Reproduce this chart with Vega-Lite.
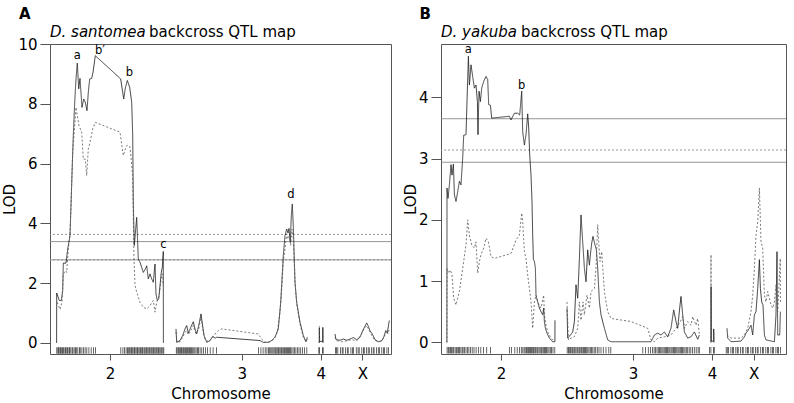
{
"$schema": "https://vega.github.io/schema/vega-lite/v6.json",
"padding": {"left": 2, "top": 6, "right": 2, "bottom": 0},
"background": "white",
"config": {
  "font": "DejaVu Sans",
  "view": {"stroke": "#555", "strokeWidth": 1},
  "axis": {"domain": false, "grid": false, "tickColor": "#555", "labelFontSize": 15, "titleFontSize": 15, "titleFontWeight": "normal", "labelColor": "#000", "titleColor": "#000", "labelFont": "DejaVu Sans", "titleFont": "DejaVu Sans"},
  "text": {"font": "DejaVu Sans"}
},
"datasets": {
  "lodA": [
    {"p":6.6,"l":0,"c":"2","t":"solid"},{"p":6.7,"l":1.67,"c":"2","t":"solid"},{"p":9.3,"l":1.42,"c":"2","t":"solid"},{"p":11.3,"l":1.42,"c":"2","t":"solid"},{"p":12.7,"l":1.75,"c":"2","t":"solid"},{"p":13.3,"l":2.67,"c":"2","t":"solid"},{"p":16,"l":2.67,"c":"2","t":"solid"},{"p":17.7,"l":3.14,"c":"2","t":"solid"},{"p":20,"l":3.59,"c":"2","t":"solid"},{"p":21,"l":4.6,"c":"2","t":"solid"},{"p":22.7,"l":6.37,"c":"2","t":"solid"},{"p":23.3,"l":6.94,"c":"2","t":"solid"},{"p":24.7,"l":8.05,"c":"2","t":"solid"},{"p":26,"l":8.83,"c":"2","t":"solid"},{"p":27.3,"l":9.36,"c":"2","t":"solid"},{"p":28.7,"l":8.5,"c":"2","t":"solid"},{"p":30,"l":8.85,"c":"2","t":"solid"},{"p":32,"l":7.88,"c":"2","t":"solid"},{"p":33.7,"l":8.16,"c":"2","t":"solid"},{"p":35.3,"l":8.05,"c":"2","t":"solid"},{"p":37,"l":7.77,"c":"2","t":"solid"},{"p":38.3,"l":8.38,"c":"2","t":"solid"},{"p":39.7,"l":8.83,"c":"2","t":"solid"},{"p":41.7,"l":8.85,"c":"2","t":"solid"},{"p":43,"l":9.05,"c":"2","t":"solid"},{"p":45.3,"l":9.61,"c":"2","t":"solid"},{"p":70.7,"l":8.83,"c":"2","t":"solid"},{"p":73.7,"l":8.16,"c":"2","t":"solid"},{"p":75.3,"l":8.52,"c":"2","t":"solid"},{"p":77.3,"l":8.78,"c":"2","t":"solid"},{"p":79.7,"l":8.55,"c":"2","t":"solid"},{"p":81.7,"l":8.05,"c":"2","t":"solid"},{"p":82.7,"l":6.94,"c":"2","t":"solid"},{"p":83.3,"l":4.7,"c":"2","t":"solid"},{"p":84.3,"l":3.26,"c":"2","t":"solid"},{"p":86.7,"l":4.2,"c":"2","t":"solid"},{"p":88.3,"l":2.81,"c":"2","t":"solid"},{"p":90,"l":2.7,"c":"2","t":"solid"},{"p":93.3,"l":2.36,"c":"2","t":"solid"},{"p":95.3,"l":2.47,"c":"2","t":"solid"},{"p":96.7,"l":2.58,"c":"2","t":"solid"},{"p":98.3,"l":2.14,"c":"2","t":"solid"},{"p":100,"l":2.31,"c":"2","t":"solid"},{"p":101.7,"l":2.14,"c":"2","t":"solid"},{"p":103.3,"l":2.03,"c":"2","t":"solid"},{"p":105,"l":2.64,"c":"2","t":"solid"},{"p":106,"l":1.64,"c":"2","t":"solid"},{"p":107.3,"l":1.42,"c":"2","t":"solid"},{"p":108.7,"l":1.47,"c":"2","t":"solid"},{"p":110,"l":1.92,"c":"2","t":"solid"},{"p":111.3,"l":2.36,"c":"2","t":"solid"},{"p":112.3,"l":2.53,"c":"2","t":"solid"},{"p":113.3,"l":3.06,"c":"2","t":"solid"},{"p":113.4,"l":0,"c":"2","t":"solid"},
    {"p":7.3,"l":1.36,"c":"2","t":"dotted"},{"p":10,"l":1.12,"c":"2","t":"dotted"},{"p":12,"l":1.36,"c":"2","t":"dotted"},{"p":13.3,"l":2.31,"c":"2","t":"dotted"},{"p":15.7,"l":2.42,"c":"2","t":"dotted"},{"p":16.7,"l":2.36,"c":"2","t":"dotted"},{"p":18.3,"l":3.14,"c":"2","t":"dotted"},{"p":20,"l":3.64,"c":"2","t":"dotted"},{"p":21,"l":4.6,"c":"2","t":"dotted"},{"p":22.7,"l":6.37,"c":"2","t":"dotted"},{"p":24,"l":6.94,"c":"2","t":"dotted"},{"p":26,"l":7.88,"c":"2","t":"dotted"},{"p":27.3,"l":7.6,"c":"2","t":"dotted"},{"p":29,"l":7.27,"c":"2","t":"dotted"},{"p":31.7,"l":7.05,"c":"2","t":"dotted"},{"p":33.3,"l":6.15,"c":"2","t":"dotted"},{"p":35.3,"l":6.15,"c":"2","t":"dotted"},{"p":36.7,"l":5.6,"c":"2","t":"dotted"},{"p":38.3,"l":6.49,"c":"2","t":"dotted"},{"p":40,"l":6.71,"c":"2","t":"dotted"},{"p":42.7,"l":7.16,"c":"2","t":"dotted"},{"p":45.3,"l":7.38,"c":"2","t":"dotted"},{"p":70,"l":7.05,"c":"2","t":"dotted"},{"p":73.3,"l":6.27,"c":"2","t":"dotted"},{"p":75.3,"l":6.49,"c":"2","t":"dotted"},{"p":77.3,"l":6.62,"c":"2","t":"dotted"},{"p":80,"l":6.55,"c":"2","t":"dotted"},{"p":82.7,"l":5.6,"c":"2","t":"dotted"},{"p":83.3,"l":4.26,"c":"2","t":"dotted"},{"p":84,"l":2.81,"c":"2","t":"dotted"},{"p":85,"l":1.92,"c":"2","t":"dotted"},{"p":86.7,"l":1.7,"c":"2","t":"dotted"},{"p":90,"l":1.36,"c":"2","t":"dotted"},{"p":93.3,"l":1.19,"c":"2","t":"dotted"},{"p":96.7,"l":1.14,"c":"2","t":"dotted"},{"p":100,"l":1.25,"c":"2","t":"dotted"},{"p":103.3,"l":1.42,"c":"2","t":"dotted"},{"p":105,"l":1.03,"c":"2","t":"dotted"},{"p":106.7,"l":1.36,"c":"2","t":"dotted"},{"p":109.3,"l":1.58,"c":"2","t":"dotted"},{"p":111,"l":2.14,"c":"2","t":"dotted"},{"p":112.7,"l":2.31,"c":"2","t":"dotted"},{"p":113,"l":1.92,"c":"2","t":"dotted"},
    {"p":126,"l":0.47,"c":"3","t":"solid"},{"p":126.7,"l":0.02,"c":"3","t":"solid"},{"p":130,"l":0.08,"c":"3","t":"solid"},{"p":132.7,"l":0.25,"c":"3","t":"solid"},{"p":135,"l":0.47,"c":"3","t":"solid"},{"p":136.7,"l":0.58,"c":"3","t":"solid"},{"p":138.3,"l":0.33,"c":"3","t":"solid"},{"p":140.7,"l":0.52,"c":"3","t":"solid"},{"p":143.3,"l":0.71,"c":"3","t":"solid"},{"p":145,"l":0.47,"c":"3","t":"solid"},{"p":146.7,"l":0.3,"c":"3","t":"solid"},{"p":148.7,"l":0.58,"c":"3","t":"solid"},{"p":151,"l":0.97,"c":"3","t":"solid"},{"p":152.7,"l":0.56,"c":"3","t":"solid"},{"p":154,"l":0.25,"c":"3","t":"solid"},{"p":156.7,"l":0.02,"c":"3","t":"solid"},{"p":160,"l":0.08,"c":"3","t":"solid"},{"p":162.7,"l":0.22,"c":"3","t":"solid"},{"p":165,"l":0.16,"c":"3","t":"solid"},{"p":166.7,"l":0.19,"c":"3","t":"solid"},{"p":210,"l":0.08,"c":"3","t":"solid"},{"p":213.3,"l":0.02,"c":"3","t":"solid"},{"p":218.3,"l":0.02,"c":"3","t":"solid"},{"p":221.7,"l":0.08,"c":"3","t":"solid"},{"p":225,"l":0.19,"c":"3","t":"solid"},{"p":228.3,"l":0.47,"c":"3","t":"solid"},{"p":230.7,"l":1.36,"c":"3","t":"solid"},{"p":233.3,"l":2.92,"c":"3","t":"solid"},{"p":235,"l":3.59,"c":"3","t":"solid"},{"p":236.7,"l":3.81,"c":"3","t":"solid"},{"p":238,"l":3.68,"c":"3","t":"solid"},{"p":239,"l":3.83,"c":"3","t":"solid"},{"p":240.3,"l":3.37,"c":"3","t":"solid"},{"p":241.3,"l":4.26,"c":"3","t":"solid"},{"p":242.3,"l":4.65,"c":"3","t":"solid"},{"p":243.3,"l":3.92,"c":"3","t":"solid"},{"p":245,"l":2.03,"c":"3","t":"solid"},{"p":246.7,"l":1.36,"c":"3","t":"solid"},{"p":250,"l":0.69,"c":"3","t":"solid"},{"p":253.3,"l":0.25,"c":"3","t":"solid"},{"p":256,"l":0.04,"c":"3","t":"solid"},{"p":257.3,"l":0.19,"c":"3","t":"solid"},
    {"p":126,"l":0.36,"c":"3","t":"dotted"},{"p":127,"l":0.02,"c":"3","t":"dotted"},{"p":130,"l":0.04,"c":"3","t":"dotted"},{"p":132.7,"l":0.19,"c":"3","t":"dotted"},{"p":135,"l":0.36,"c":"3","t":"dotted"},{"p":136.7,"l":0.41,"c":"3","t":"dotted"},{"p":138.3,"l":0.27,"c":"3","t":"dotted"},{"p":140.7,"l":0.41,"c":"3","t":"dotted"},{"p":143.3,"l":0.58,"c":"3","t":"dotted"},{"p":146,"l":0.3,"c":"3","t":"dotted"},{"p":148.7,"l":0.47,"c":"3","t":"dotted"},{"p":151,"l":0.86,"c":"3","t":"dotted"},{"p":152.7,"l":0.47,"c":"3","t":"dotted"},{"p":155,"l":0.13,"c":"3","t":"dotted"},{"p":158.3,"l":0.04,"c":"3","t":"dotted"},{"p":161.7,"l":0.13,"c":"3","t":"dotted"},{"p":165,"l":0.3,"c":"3","t":"dotted"},{"p":168.3,"l":0.41,"c":"3","t":"dotted"},{"p":171.7,"l":0.47,"c":"3","t":"dotted"},{"p":208.3,"l":0.3,"c":"3","t":"dotted"},{"p":211.7,"l":0.13,"c":"3","t":"dotted"},{"p":215,"l":0.02,"c":"3","t":"dotted"},{"p":220,"l":0.04,"c":"3","t":"dotted"},{"p":224,"l":0.13,"c":"3","t":"dotted"},{"p":227.3,"l":0.36,"c":"3","t":"dotted"},{"p":230,"l":1.03,"c":"3","t":"dotted"},{"p":232,"l":1.92,"c":"3","t":"dotted"},{"p":233.3,"l":2.75,"c":"3","t":"dotted"},{"p":235,"l":3.14,"c":"3","t":"dotted"},{"p":236.7,"l":3.65,"c":"3","t":"dotted"},{"p":238,"l":3.48,"c":"3","t":"dotted"},{"p":239.3,"l":3.59,"c":"3","t":"dotted"},{"p":240.7,"l":3.26,"c":"3","t":"dotted"},{"p":242,"l":3.81,"c":"3","t":"dotted"},{"p":243.3,"l":3.48,"c":"3","t":"dotted"},{"p":245,"l":2.03,"c":"3","t":"dotted"},{"p":246.7,"l":1.3,"c":"3","t":"dotted"},{"p":250,"l":0.64,"c":"3","t":"dotted"},{"p":253.3,"l":0.19,"c":"3","t":"dotted"},{"p":256,"l":0.04,"c":"3","t":"dotted"},{"p":257.3,"l":0.13,"c":"3","t":"dotted"},
    {"p":269.3,"l":0,"c":"4","t":"solid"},{"p":269.4,"l":0.5,"c":"4","t":"solid"},{"p":269.6,"l":0.05,"c":"4","t":"solid"},{"p":272.6,"l":0.05,"c":"4","t":"solid"},{"p":272.8,"l":0.52,"c":"4","t":"solid"},{"p":273,"l":0,"c":"4","t":"solid"},
    {"p":269.2,"l":0,"c":"4","t":"dotted"},{"p":269.3,"l":0.55,"c":"4","t":"dotted"},{"p":269.5,"l":0.05,"c":"4","t":"dotted"},{"p":272.5,"l":0.05,"c":"4","t":"dotted"},{"p":272.7,"l":0.5,"c":"4","t":"dotted"},{"p":272.9,"l":0,"c":"4","t":"dotted"},
    {"p":285,"l":0.3,"c":"X","t":"solid"},{"p":286,"l":0.11,"c":"X","t":"solid"},{"p":290,"l":0.09,"c":"X","t":"solid"},{"p":293.3,"l":0.13,"c":"X","t":"solid"},{"p":296.7,"l":0.09,"c":"X","t":"solid"},{"p":300,"l":0.13,"c":"X","t":"solid"},{"p":303.3,"l":0.18,"c":"X","t":"solid"},{"p":306.7,"l":0.11,"c":"X","t":"solid"},{"p":310,"l":0.19,"c":"X","t":"solid"},{"p":312.7,"l":0.41,"c":"X","t":"solid"},{"p":315,"l":0.56,"c":"X","t":"solid"},{"p":316.7,"l":0.67,"c":"X","t":"solid"},{"p":318.3,"l":0.56,"c":"X","t":"solid"},{"p":320,"l":0.41,"c":"X","t":"solid"},{"p":322.3,"l":0.3,"c":"X","t":"solid"},{"p":325,"l":0.11,"c":"X","t":"solid"},{"p":328.3,"l":0.04,"c":"X","t":"solid"},{"p":331.7,"l":0.07,"c":"X","t":"solid"},{"p":334,"l":0.22,"c":"X","t":"solid"},{"p":335.7,"l":0.41,"c":"X","t":"solid"},{"p":337.3,"l":0.33,"c":"X","t":"solid"},{"p":339.3,"l":0.75,"c":"X","t":"solid"},
    {"p":285,"l":0.19,"c":"X","t":"dotted"},{"p":286.7,"l":0.08,"c":"X","t":"dotted"},{"p":291.7,"l":0.04,"c":"X","t":"dotted"},{"p":296.7,"l":0.07,"c":"X","t":"dotted"},{"p":301.7,"l":0.11,"c":"X","t":"dotted"},{"p":306.7,"l":0.07,"c":"X","t":"dotted"},{"p":310.7,"l":0.25,"c":"X","t":"dotted"},{"p":314,"l":0.47,"c":"X","t":"dotted"},{"p":316.7,"l":0.58,"c":"X","t":"dotted"},{"p":319.3,"l":0.41,"c":"X","t":"dotted"},{"p":321.7,"l":0.25,"c":"X","t":"dotted"},{"p":325,"l":0.08,"c":"X","t":"dotted"},{"p":330,"l":0.04,"c":"X","t":"dotted"},{"p":334,"l":0.16,"c":"X","t":"dotted"},{"p":336,"l":0.41,"c":"X","t":"dotted"},{"p":338,"l":0.3,"c":"X","t":"dotted"},{"p":339.3,"l":0.47,"c":"X","t":"dotted"}
  ],
  "lodB": [
    {"p":5.9,"l":0,"c":"2","t":"solid"},{"p":6,"l":2.52,"c":"2","t":"solid"},{"p":7,"l":2.35,"c":"2","t":"solid"},{"p":8.4,"l":2.57,"c":"2","t":"solid"},{"p":10,"l":2.9,"c":"2","t":"solid"},{"p":11,"l":2.73,"c":"2","t":"solid"},{"p":12.4,"l":2.91,"c":"2","t":"solid"},{"p":13.4,"l":2.41,"c":"2","t":"solid"},{"p":15,"l":2.3,"c":"2","t":"solid"},{"p":16.7,"l":2.46,"c":"2","t":"solid"},{"p":18.4,"l":2.63,"c":"2","t":"solid"},{"p":20,"l":2.57,"c":"2","t":"solid"},{"p":21.7,"l":3.01,"c":"2","t":"solid"},{"p":22.7,"l":3.38,"c":"2","t":"solid"},{"p":25,"l":3.39,"c":"2","t":"solid"},{"p":26,"l":3.93,"c":"2","t":"solid"},{"p":27.4,"l":4.67,"c":"2","t":"solid"},{"p":28.4,"l":4.2,"c":"2","t":"solid"},{"p":30,"l":4.53,"c":"2","t":"solid"},{"p":31.7,"l":4.34,"c":"2","t":"solid"},{"p":33.4,"l":4.15,"c":"2","t":"solid"},{"p":35,"l":4.2,"c":"2","t":"solid"},{"p":36.4,"l":3.93,"c":"2","t":"solid"},{"p":37,"l":3.39,"c":"2","t":"solid"},{"p":38,"l":4.1,"c":"2","t":"solid"},{"p":39.4,"l":3.93,"c":"2","t":"solid"},{"p":40.7,"l":4.15,"c":"2","t":"solid"},{"p":42.7,"l":4.26,"c":"2","t":"solid"},{"p":45,"l":4.34,"c":"2","t":"solid"},{"p":46.7,"l":4.29,"c":"2","t":"solid"},{"p":47.7,"l":3.88,"c":"2","t":"solid"},{"p":49.4,"l":3.87,"c":"2","t":"solid"},{"p":50.7,"l":3.66,"c":"2","t":"solid"},{"p":68.4,"l":3.69,"c":"2","t":"solid"},{"p":70,"l":3.63,"c":"2","t":"solid"},{"p":73.4,"l":3.74,"c":"2","t":"solid"},{"p":76.7,"l":3.74,"c":"2","t":"solid"},{"p":78.7,"l":3.71,"c":"2","t":"solid"},{"p":80.7,"l":4.1,"c":"2","t":"solid"},{"p":81.7,"l":3.44,"c":"2","t":"solid"},{"p":83.4,"l":3.22,"c":"2","t":"solid"},{"p":85,"l":3.39,"c":"2","t":"solid"},{"p":86.7,"l":3.73,"c":"2","t":"solid"},{"p":87.7,"l":3.5,"c":"2","t":"solid"},{"p":88.7,"l":3.06,"c":"2","t":"solid"},{"p":90,"l":2.73,"c":"2","t":"solid"},{"p":91,"l":2.3,"c":"2","t":"solid"},{"p":91.7,"l":1.75,"c":"2","t":"solid"},{"p":92.4,"l":1.35,"c":"2","t":"solid"},{"p":93.4,"l":1.32,"c":"2","t":"solid"},{"p":94.4,"l":1.21,"c":"2","t":"solid"},{"p":95,"l":0.77,"c":"2","t":"solid"},{"p":96.7,"l":0.66,"c":"2","t":"solid"},{"p":98.4,"l":0.56,"c":"2","t":"solid"},{"p":100,"l":0.5,"c":"2","t":"solid"},{"p":101.7,"l":0.45,"c":"2","t":"solid"},{"p":102.7,"l":0.56,"c":"2","t":"solid"},{"p":103.4,"l":0.34,"c":"2","t":"solid"},{"p":104.4,"l":0.23,"c":"2","t":"solid"},{"p":106,"l":0.15,"c":"2","t":"solid"},{"p":108.4,"l":0.07,"c":"2","t":"solid"},{"p":111.7,"l":0.01,"c":"2","t":"solid"},{"p":113.9,"l":0.01,"c":"2","t":"solid"},{"p":114,"l":0.36,"c":"2","t":"solid"},
    {"p":5.9,"l":0,"c":"2","t":"dotted"},{"p":6,"l":1.21,"c":"2","t":"dotted"},{"p":7.4,"l":1.13,"c":"2","t":"dotted"},{"p":9.4,"l":1.18,"c":"2","t":"dotted"},{"p":11,"l":1.1,"c":"2","t":"dotted"},{"p":12.7,"l":0.72,"c":"2","t":"dotted"},{"p":15,"l":0.61,"c":"2","t":"dotted"},{"p":16.7,"l":0.72,"c":"2","t":"dotted"},{"p":18.4,"l":0.83,"c":"2","t":"dotted"},{"p":21.7,"l":1.21,"c":"2","t":"dotted"},{"p":25,"l":1.59,"c":"2","t":"dotted"},{"p":26.7,"l":2.0,"c":"2","t":"dotted"},{"p":28.4,"l":1.75,"c":"2","t":"dotted"},{"p":30.7,"l":1.59,"c":"2","t":"dotted"},{"p":33.4,"l":1.54,"c":"2","t":"dotted"},{"p":35,"l":1.64,"c":"2","t":"dotted"},{"p":36.7,"l":1.13,"c":"2","t":"dotted"},{"p":38.4,"l":1.32,"c":"2","t":"dotted"},{"p":40,"l":1.43,"c":"2","t":"dotted"},{"p":42.7,"l":1.54,"c":"2","t":"dotted"},{"p":45,"l":1.7,"c":"2","t":"dotted"},{"p":47.4,"l":1.64,"c":"2","t":"dotted"},{"p":50,"l":1.4,"c":"2","t":"dotted"},{"p":53.4,"l":1.37,"c":"2","t":"dotted"},{"p":70,"l":1.45,"c":"2","t":"dotted"},{"p":75,"l":1.67,"c":"2","t":"dotted"},{"p":78.4,"l":1.75,"c":"2","t":"dotted"},{"p":80.7,"l":2.11,"c":"2","t":"dotted"},{"p":81.7,"l":1.97,"c":"2","t":"dotted"},{"p":83.4,"l":1.48,"c":"2","t":"dotted"},{"p":85,"l":1.37,"c":"2","t":"dotted"},{"p":86.7,"l":1.1,"c":"2","t":"dotted"},{"p":88.4,"l":0.88,"c":"2","t":"dotted"},{"p":90,"l":0.66,"c":"2","t":"dotted"},{"p":91.7,"l":0.23,"c":"2","t":"dotted"},{"p":93.4,"l":0.66,"c":"2","t":"dotted"},{"p":95,"l":0.77,"c":"2","t":"dotted"},{"p":96.7,"l":0.66,"c":"2","t":"dotted"},{"p":100,"l":0.56,"c":"2","t":"dotted"},{"p":102.7,"l":0.77,"c":"2","t":"dotted"},{"p":103.4,"l":0.45,"c":"2","t":"dotted"},{"p":105,"l":0.28,"c":"2","t":"dotted"},{"p":106.7,"l":0.17,"c":"2","t":"dotted"},{"p":110,"l":0.07,"c":"2","t":"dotted"},{"p":113.4,"l":0.01,"c":"2","t":"dotted"},
    {"p":126,"l":0.56,"c":"3","t":"solid"},{"p":126.7,"l":0.07,"c":"3","t":"solid"},{"p":129.4,"l":0.12,"c":"3","t":"solid"},{"p":131.7,"l":0.17,"c":"3","t":"solid"},{"p":133.4,"l":0.34,"c":"3","t":"solid"},{"p":135,"l":0.94,"c":"3","t":"solid"},{"p":136.7,"l":0.72,"c":"3","t":"solid"},{"p":138.4,"l":1.37,"c":"3","t":"solid"},{"p":140,"l":2.08,"c":"3","t":"solid"},{"p":141.7,"l":1.64,"c":"3","t":"solid"},{"p":143.4,"l":1.21,"c":"3","t":"solid"},{"p":145,"l":0.99,"c":"3","t":"solid"},{"p":146.7,"l":1.51,"c":"3","t":"solid"},{"p":148.4,"l":1.26,"c":"3","t":"solid"},{"p":149.4,"l":1.43,"c":"3","t":"solid"},{"p":150.7,"l":1.62,"c":"3","t":"solid"},{"p":152,"l":1.73,"c":"3","t":"solid"},{"p":154,"l":1.59,"c":"3","t":"solid"},{"p":155.4,"l":1.51,"c":"3","t":"solid"},{"p":156.7,"l":1.21,"c":"3","t":"solid"},{"p":158.4,"l":0.66,"c":"3","t":"solid"},{"p":160,"l":0.45,"c":"3","t":"solid"},{"p":163.4,"l":0.23,"c":"3","t":"solid"},{"p":166.7,"l":0.04,"c":"3","t":"solid"},{"p":170,"l":0.01,"c":"3","t":"solid"},{"p":210,"l":0.01,"c":"3","t":"solid"},{"p":213.4,"l":0.12,"c":"3","t":"solid"},{"p":216.7,"l":0.15,"c":"3","t":"solid"},{"p":220,"l":0.12,"c":"3","t":"solid"},{"p":223.4,"l":0.17,"c":"3","t":"solid"},{"p":226.7,"l":0.09,"c":"3","t":"solid"},{"p":230,"l":0.23,"c":"3","t":"solid"},{"p":232.7,"l":0.53,"c":"3","t":"solid"},{"p":235,"l":0.34,"c":"3","t":"solid"},{"p":236.7,"l":0.23,"c":"3","t":"solid"},{"p":238.7,"l":0.56,"c":"3","t":"solid"},{"p":240,"l":0.75,"c":"3","t":"solid"},{"p":241.7,"l":0.45,"c":"3","t":"solid"},{"p":243.4,"l":0.17,"c":"3","t":"solid"},{"p":246.7,"l":0.07,"c":"3","t":"solid"},{"p":250,"l":0.09,"c":"3","t":"solid"},{"p":253.4,"l":0.17,"c":"3","t":"solid"},{"p":256.7,"l":0.05,"c":"3","t":"solid"},{"p":258.4,"l":0.12,"c":"3","t":"solid"},
    {"p":126,"l":0.66,"c":"3","t":"dotted"},{"p":127.4,"l":0.04,"c":"3","t":"dotted"},{"p":130,"l":0.07,"c":"3","t":"dotted"},{"p":133.4,"l":0.09,"c":"3","t":"dotted"},{"p":136.7,"l":0.23,"c":"3","t":"dotted"},{"p":138.4,"l":0.66,"c":"3","t":"dotted"},{"p":140,"l":0.36,"c":"3","t":"dotted"},{"p":142,"l":0.66,"c":"3","t":"dotted"},{"p":143.4,"l":0.45,"c":"3","t":"dotted"},{"p":146,"l":0.77,"c":"3","t":"dotted"},{"p":148.4,"l":0.56,"c":"3","t":"dotted"},{"p":150,"l":0.83,"c":"3","t":"dotted"},{"p":153.4,"l":0.88,"c":"3","t":"dotted"},{"p":155,"l":1.21,"c":"3","t":"dotted"},{"p":156.7,"l":1.92,"c":"3","t":"dotted"},{"p":157.7,"l":1.64,"c":"3","t":"dotted"},{"p":159,"l":1.32,"c":"3","t":"dotted"},{"p":160.7,"l":1.48,"c":"3","t":"dotted"},{"p":163.4,"l":0.83,"c":"3","t":"dotted"},{"p":166.7,"l":0.5,"c":"3","t":"dotted"},{"p":170,"l":0.39,"c":"3","t":"dotted"},{"p":190,"l":0.34,"c":"3","t":"dotted"},{"p":206.7,"l":0.23,"c":"3","t":"dotted"},{"p":210,"l":0.04,"c":"3","t":"dotted"},{"p":213.4,"l":0.01,"c":"3","t":"dotted"},{"p":216.7,"l":0.07,"c":"3","t":"dotted"},{"p":223.4,"l":0.09,"c":"3","t":"dotted"},{"p":230,"l":0.12,"c":"3","t":"dotted"},{"p":235,"l":0.23,"c":"3","t":"dotted"},{"p":239.4,"l":0.34,"c":"3","t":"dotted"},{"p":241.7,"l":0.42,"c":"3","t":"dotted"},{"p":243.4,"l":0.23,"c":"3","t":"dotted"},{"p":246.7,"l":0.34,"c":"3","t":"dotted"},{"p":250,"l":0.28,"c":"3","t":"dotted"},{"p":251.7,"l":0.42,"c":"3","t":"dotted"},{"p":255,"l":0.28,"c":"3","t":"dotted"},{"p":256.7,"l":0.39,"c":"3","t":"dotted"},{"p":258.4,"l":0.12,"c":"3","t":"dotted"},
    {"p":270,"l":0,"c":"4","t":"solid"},{"p":270.1,"l":0.91,"c":"4","t":"solid"},{"p":270.3,"l":0.02,"c":"4","t":"solid"},{"p":272.6,"l":0.02,"c":"4","t":"solid"},{"p":272.7,"l":0.22,"c":"4","t":"solid"},{"p":272.9,"l":0,"c":"4","t":"solid"},
    {"p":269.9,"l":0,"c":"4","t":"dotted"},{"p":270,"l":1.43,"c":"4","t":"dotted"},{"p":270.2,"l":0.02,"c":"4","t":"dotted"},{"p":272.6,"l":0.02,"c":"4","t":"dotted"},{"p":272.7,"l":0.15,"c":"4","t":"dotted"},{"p":272.9,"l":0,"c":"4","t":"dotted"},
    {"p":286,"l":0.23,"c":"X","t":"solid"},{"p":286.7,"l":0.07,"c":"X","t":"solid"},{"p":288.4,"l":0.04,"c":"X","t":"solid"},{"p":290,"l":0.01,"c":"X","t":"solid"},{"p":300,"l":0.02,"c":"X","t":"solid"},{"p":303.4,"l":0.09,"c":"X","t":"solid"},{"p":305,"l":0.15,"c":"X","t":"solid"},{"p":308.4,"l":0.23,"c":"X","t":"solid"},{"p":310,"l":0.28,"c":"X","t":"solid"},{"p":311.7,"l":0.12,"c":"X","t":"solid"},{"p":313.4,"l":0.45,"c":"X","t":"solid"},{"p":315,"l":0.5,"c":"X","t":"solid"},{"p":316.7,"l":0.88,"c":"X","t":"solid"},{"p":318.4,"l":1.35,"c":"X","t":"solid"},{"p":319.4,"l":0.88,"c":"X","t":"solid"},{"p":320.7,"l":0.66,"c":"X","t":"solid"},{"p":322,"l":0.61,"c":"X","t":"solid"},{"p":323.4,"l":0.12,"c":"X","t":"solid"},{"p":325,"l":0.04,"c":"X","t":"solid"},{"p":333.4,"l":0.01,"c":"X","t":"solid"},{"p":335,"l":0.45,"c":"X","t":"solid"},{"p":336,"l":1.48,"c":"X","t":"solid"},{"p":336.7,"l":0.12,"c":"X","t":"solid"},{"p":338.7,"l":0.12,"c":"X","t":"solid"},{"p":339.4,"l":0.5,"c":"X","t":"solid"},
    {"p":286,"l":0.12,"c":"X","t":"dotted"},{"p":290,"l":0.07,"c":"X","t":"dotted"},{"p":300,"l":0.07,"c":"X","t":"dotted"},{"p":303.4,"l":0.12,"c":"X","t":"dotted"},{"p":306.7,"l":0.23,"c":"X","t":"dotted"},{"p":310,"l":0.5,"c":"X","t":"dotted"},{"p":311.7,"l":0.77,"c":"X","t":"dotted"},{"p":313.4,"l":1.21,"c":"X","t":"dotted"},{"p":315,"l":1.75,"c":"X","t":"dotted"},{"p":316.7,"l":1.97,"c":"X","t":"dotted"},{"p":318.4,"l":2.52,"c":"X","t":"dotted"},{"p":319.4,"l":1.97,"c":"X","t":"dotted"},{"p":320,"l":1.64,"c":"X","t":"dotted"},{"p":321.7,"l":1.54,"c":"X","t":"dotted"},{"p":323.4,"l":0.77,"c":"X","t":"dotted"},{"p":325,"l":0.66,"c":"X","t":"dotted"},{"p":326.7,"l":0.83,"c":"X","t":"dotted"},{"p":330,"l":0.61,"c":"X","t":"dotted"},{"p":331.7,"l":0.56,"c":"X","t":"dotted"},{"p":333.4,"l":0.66,"c":"X","t":"dotted"},{"p":335,"l":0.94,"c":"X","t":"dotted"},{"p":336.7,"l":0.5,"c":"X","t":"dotted"},{"p":339.3,"l":1.37,"c":"X","t":"dotted"},{"p":339.4,"l":0.66,"c":"X","t":"dotted"}
  ],
  "rugA": [
    {"p":6.8},{"p":7.9},{"p":8.6},{"p":9.8},{"p":10.5},{"p":11.7},{"p":12.4},{"p":13.6},{"p":14.9},{"p":15.5},{"p":16.8},{"p":17.4},{"p":18.9},{"p":19.6},{"p":20.8},{"p":22.1},{"p":22.9},{"p":24.2},{"p":25.6},{"p":26.3},{"p":27.8},{"p":29.4},{"p":30.2},{"p":31.9},{"p":33.5},{"p":35.1},{"p":36.8},{"p":38.9},{"p":41.2},{"p":43.5},{"p":45.6},
    {"p":70.8},{"p":72.9},{"p":74.6},{"p":76.1},{"p":77.4},{"p":78.3},{"p":79.6},{"p":80.8},{"p":81.5},{"p":82.7},{"p":83.9},{"p":84.6},{"p":85.8},{"p":86.9},{"p":87.6},{"p":88.8},{"p":89.9},{"p":90.7},{"p":91.8},{"p":92.6},{"p":93.9},{"p":94.8},{"p":95.9},{"p":96.7},{"p":97.8},{"p":98.9},{"p":99.7},{"p":100.9},{"p":101.8},{"p":102.9},{"p":103.7},{"p":104.8},{"p":105.9},{"p":106.8},{"p":107.9},{"p":108.7},{"p":109.8},{"p":110.9},{"p":111.8},{"p":112.9},{"p":113.8},
    {"p":126.3},{"p":127.2},{"p":128.4},{"p":129.3},{"p":130.5},{"p":131.4},{"p":132.2},{"p":133.5},{"p":134.3},{"p":135.6},{"p":136.4},{"p":137.5},{"p":138.7},{"p":139.4},{"p":140.6},{"p":141.5},{"p":142.7},{"p":143.8},{"p":144.9},{"p":146.1},{"p":147.4},{"p":148.6},{"p":150.1},{"p":151.8},{"p":153.5},{"p":155.4},{"p":157.6},{"p":160.2},{"p":163.1},{"p":166.4},
    {"p":208.4},{"p":210.9},{"p":213.1},{"p":215.2},{"p":216.9},{"p":218.4},{"p":219.7},{"p":220.8},{"p":221.9},{"p":223},{"p":224.1},{"p":225.2},{"p":226.1},{"p":227.2},{"p":228.3},{"p":229.1},{"p":230.2},{"p":231.3},{"p":232.2},{"p":233.3},{"p":234.4},{"p":235.3},{"p":236.4},{"p":237.5},{"p":238.4},{"p":239.5},{"p":240.6},{"p":241.8},{"p":243.1},{"p":244.5},{"p":245.9},{"p":247.4},{"p":249},{"p":250.7},{"p":252.5},{"p":254.4},{"p":256.8},
    {"p":268.8},{"p":269.6},{"p":272.4},{"p":273.2},
    {"p":285.4},{"p":286.6},{"p":287.8},{"p":290.4},{"p":292.2},{"p":293.1},{"p":295.6},{"p":297.3},{"p":298.2},{"p":300.9},{"p":302.6},{"p":303.5},{"p":306.3},{"p":308.1},{"p":309.2},{"p":311.8},{"p":313.4},{"p":314.3},{"p":316.5},{"p":318.2},{"p":319.3},{"p":321.6},{"p":323.2},{"p":324.1},{"p":326.4},{"p":328.3},{"p":329.6},{"p":331.8},{"p":333.5},{"p":334.6},{"p":336.9},{"p":338.6}
  ],
  "rugB": [
    {"p":6.1},{"p":7.3},{"p":8.2},{"p":9.6},{"p":10.4},{"p":11.8},{"p":12.7},{"p":14.1},{"p":15.3},{"p":16.2},{"p":17.6},{"p":18.5},{"p":19.9},{"p":21.2},{"p":22.1},{"p":23.6},{"p":25},{"p":26.4},{"p":27.9},{"p":29.5},{"p":31.2},{"p":33},{"p":35.1},{"p":37.4},{"p":39.8},{"p":42.5},{"p":45.7},{"p":49.6},
    {"p":68.5},{"p":70.6},{"p":73.8},{"p":76.2},{"p":78.5},{"p":80.3},{"p":81.8},{"p":83.1},{"p":84.2},{"p":85.4},{"p":86.3},{"p":87.5},{"p":88.4},{"p":89.6},{"p":90.5},{"p":91.7},{"p":92.6},{"p":93.8},{"p":94.7},{"p":95.9},{"p":96.8},{"p":98},{"p":99.1},{"p":100.2},{"p":101.1},{"p":102.3},{"p":103.4},{"p":104.5},{"p":105.6},{"p":106.8},{"p":108},{"p":109.3},{"p":110.6},{"p":112},{"p":113.8},
    {"p":126.2},{"p":127.4},{"p":128.3},{"p":129.6},{"p":130.8},{"p":131.7},{"p":132.9},{"p":133.8},{"p":134.9},{"p":136.1},{"p":137},{"p":138.2},{"p":139.1},{"p":140.3},{"p":141.2},{"p":142.4},{"p":143.6},{"p":144.5},{"p":145.7},{"p":146.8},{"p":148},{"p":149.3},{"p":150.5},{"p":151.8},{"p":153.2},{"p":154.7},{"p":156.3},{"p":158},{"p":160},{"p":162.3},{"p":165},{"p":167.8},{"p":169.8},
    {"p":201.8},{"p":204.6},{"p":207.3},{"p":209.5},{"p":211.4},{"p":213.1},{"p":214.6},{"p":216},{"p":217.3},{"p":218.5},{"p":219.7},{"p":220.9},{"p":222},{"p":223.2},{"p":224.3},{"p":225.5},{"p":226.6},{"p":227.8},{"p":228.9},{"p":230.1},{"p":231.2},{"p":232.4},{"p":233.5},{"p":234.7},{"p":235.8},{"p":237},{"p":238.1},{"p":239.3},{"p":240.4},{"p":241.6},{"p":242.8},{"p":244},{"p":245.3},{"p":246.7},{"p":248.2},{"p":249.8},{"p":251.5},{"p":253.3},{"p":255.2},{"p":257.1},{"p":258.3},
    {"p":268.6},{"p":269.9},{"p":272.5},{"p":273.3},
    {"p":285.2},{"p":286.3},{"p":287.4},{"p":289.9},{"p":291.5},{"p":292.4},{"p":294.8},{"p":296.3},{"p":297.2},{"p":299.6},{"p":301.3},{"p":302.2},{"p":304.9},{"p":306.4},{"p":307.3},{"p":309.8},{"p":311.3},{"p":312.2},{"p":314.6},{"p":316.2},{"p":317.1},{"p":319.7},{"p":321.4},{"p":322.3},{"p":324.8},{"p":326.5},{"p":327.4},{"p":329.9},{"p":331.6},{"p":332.5},{"p":334.9},{"p":336.6},{"p":337.5},{"p":339.6}
  ],
  "thrA": [{"l":3.63,"t":"dotted"},{"l":3.39,"t":"solid"},{"l":2.78,"t":"dotted"},{"l":2.78,"t":"solid"}],
  "thrB": [{"l":3.65,"t":"solid"},{"l":3.14,"t":"dotted"},{"l":2.94,"t":"solid"}],
  "labA": [{"p":27.3,"l":9.61,"s":"a"},{"p":50,"l":9.78,"s":"b′"},{"p":79.3,"l":9.03,"s":"b"},{"p":113.3,"l":3.26,"s":"c"},{"p":241,"l":4.95,"s":"d"}],
  "labB": [{"p":27.4,"l":4.78,"s":"a"},{"p":80.7,"l":4.18,"s":"b"}]
},
"spacing": 10,
"hconcat": [
  {
    "title": {"text": "A", "anchor": "start", "frame": "bounds", "fontSize": 15, "fontWeight": "bold", "dx": 16, "offset": 3, "font": "DejaVu Sans"},
    "width": 341,
    "height": 310,
    "layer": [
      {
        "data": {"name": "thrA"},
        "mark": {"type": "rule", "color": "#8a8a8a", "strokeWidth": 0.9},
        "encoding": {
          "y": {"field": "l", "type": "quantitative", "scale": {"domain": [-0.37, 10], "nice": false, "zero": false}, "axis": {"title": "LOD", "values": [0, 2, 4, 6, 8, 10], "format": "d", "tickSize": 10, "labelPadding": 3, "titlePadding": 0}},
          "strokeDash": {"field": "t", "type": "nominal", "scale": {"domain": ["solid", "dotted"], "range": [[1, 0], [2, 2]]}, "legend": null}
        }
      },
      {
        "data": {"name": "lodA"},
        "mark": {"type": "line", "strokeWidth": 0.8, "clip": true},
        "encoding": {
          "x": {"field": "p", "type": "quantitative", "scale": {"domain": [0, 341], "nice": false, "zero": false}, "axis": {"title": "Chromosome", "values": [60, 191.7, 270.7, 312.3], "labelExpr": "datum.value < 100 ? '2' : datum.value < 230 ? '3' : datum.value < 290 ? '4' : 'X'", "tickSize": 6, "labelPadding": 6, "titlePadding": 5.5}},
          "y": {"field": "l", "type": "quantitative"},
          "detail": {"field": "c", "type": "nominal"},
          "strokeDash": {"field": "t", "type": "nominal", "legend": null},
          "color": {"field": "t", "type": "nominal", "scale": {"domain": ["solid", "dotted"], "range": ["#111111", "#555555"]}, "legend": null}
        }
      },
      {
        "data": {"name": "rugA"},
        "mark": {"type": "tick", "orient": "vertical", "size": 6.5, "thickness": 0.8, "color": "#000", "opacity": 0.75},
        "encoding": {
          "x": {"field": "p", "type": "quantitative"},
          "y": {"datum": -0.254}
        }
      },
      {
        "data": {"name": "labA"},
        "mark": {"type": "text", "fontSize": 11.5, "baseline": "middle", "align": "center", "color": "#000"},
        "encoding": {
          "x": {"field": "p", "type": "quantitative"},
          "y": {"field": "l", "type": "quantitative"},
          "text": {"field": "s"}
        }
      },
      {
        "data": {"values": [{}]},
        "mark": {"type": "text", "fontSize": 15, "fontStyle": "italic", "align": "left", "baseline": "alphabetic", "dy": -7, "clip": false, "color": "#000"},
        "encoding": {"x": {"datum": 0}, "y": {"datum": 10}, "text": {"value": "D. santomea"}}
      },
      {
        "data": {"values": [{}]},
        "mark": {"type": "text", "fontSize": 15, "align": "left", "baseline": "alphabetic", "dy": -7, "dx": 99, "clip": false, "color": "#000"},
        "encoding": {"x": {"datum": 0}, "y": {"datum": 10}, "text": {"value": "backcross QTL map"}}
      }
    ]
  },
  {
    "title": {"text": "B", "anchor": "start", "frame": "bounds", "fontSize": 15, "fontWeight": "bold", "dx": 16, "offset": 3, "font": "DejaVu Sans"},
    "width": 345,
    "height": 310,
    "layer": [
      {
        "data": {"name": "thrB"},
        "mark": {"type": "rule", "color": "#8a8a8a", "strokeWidth": 0.9},
        "encoding": {
          "y": {"field": "l", "type": "quantitative", "scale": {"domain": [-0.19, 4.87], "nice": false, "zero": false}, "axis": {"title": "LOD", "values": [0, 1, 2, 3, 4], "format": "d", "tickSize": 10, "labelPadding": 3, "titlePadding": 0}},
          "strokeDash": {"field": "t", "type": "nominal", "scale": {"domain": ["solid", "dotted"], "range": [[1, 0], [2, 2]]}, "legend": null}
        }
      },
      {
        "data": {"name": "lodB"},
        "mark": {"type": "line", "strokeWidth": 0.8, "clip": true},
        "encoding": {
          "x": {"field": "p", "type": "quantitative", "scale": {"domain": [0, 345], "nice": false, "zero": false}, "axis": {"title": "Chromosome", "values": [60, 192, 271, 312.7], "labelExpr": "datum.value < 100 ? '2' : datum.value < 230 ? '3' : datum.value < 290 ? '4' : 'X'", "tickSize": 6, "labelPadding": 6, "titlePadding": 5.5}},
          "y": {"field": "l", "type": "quantitative"},
          "detail": {"field": "c", "type": "nominal"},
          "strokeDash": {"field": "t", "type": "nominal", "legend": null},
          "color": {"field": "t", "type": "nominal", "scale": {"domain": ["solid", "dotted"], "range": ["#111111", "#555555"]}, "legend": null}
        }
      },
      {
        "data": {"name": "rugB"},
        "mark": {"type": "tick", "orient": "vertical", "size": 6.5, "thickness": 0.8, "color": "#000", "opacity": 0.75},
        "encoding": {
          "x": {"field": "p", "type": "quantitative"},
          "y": {"datum": -0.13}
        }
      },
      {
        "data": {"name": "labB"},
        "mark": {"type": "text", "fontSize": 11.5, "baseline": "middle", "align": "center", "color": "#000"},
        "encoding": {
          "x": {"field": "p", "type": "quantitative"},
          "y": {"field": "l", "type": "quantitative"},
          "text": {"field": "s"}
        }
      },
      {
        "data": {"values": [{}]},
        "mark": {"type": "text", "fontSize": 15, "fontStyle": "italic", "align": "left", "baseline": "alphabetic", "dy": -7, "clip": false, "color": "#000"},
        "encoding": {"x": {"datum": 0}, "y": {"datum": 4.87}, "text": {"value": "D. yakuba"}}
      },
      {
        "data": {"values": [{}]},
        "mark": {"type": "text", "fontSize": 15, "align": "left", "baseline": "alphabetic", "dy": -7, "dx": 80, "clip": false, "color": "#000"},
        "encoding": {"x": {"datum": 0}, "y": {"datum": 4.87}, "text": {"value": "backcross QTL map"}}
      }
    ]
  }
]
}
